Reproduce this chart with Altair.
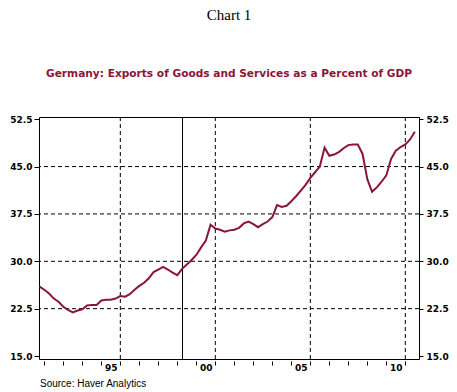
import altair as alt
import pandas as pd

# ---- data ----
first_year = 1991
first_quarter = 4
export_pct = [
    26.0, 25.5, 24.9, 24.1, 23.6,
    22.8, 22.3, 21.9, 22.2,
    22.4, 23.0, 23.1, 23.1,
    23.8, 23.9, 23.9, 24.1,
    24.5, 24.4, 24.8, 25.5,
    26.1, 26.6, 27.3, 28.3,
    28.7, 29.1, 28.7, 28.2,
    27.8, 28.8, 29.5, 30.2,
    31.0, 32.2, 33.3, 35.8,
    35.2, 35.0, 34.7, 34.9,
    35.0, 35.3, 36.0, 36.3,
    35.9, 35.4, 35.9, 36.3,
    37.0, 38.9, 38.6, 38.8,
    39.5, 40.3, 41.2, 42.1,
    43.2, 44.1, 45.0, 48.0,
    46.7, 46.9, 47.3, 47.9,
    48.4, 48.5, 48.5, 47.0,
    43.0, 41.0, 41.7, 42.6,
    43.6, 46.2, 47.5, 48.1,
    48.5, 49.3, 50.5,
]
label_years = [1995, 2000, 2005, 2010]
tick_labels = ["95", "00", "05", "10"]
minor_tick_years = list(range(1992, 2012))
grid_x_years = [1996, 2001, 2006, 2011]
grid_y_values = [22.5, 30.0, 37.5, 45.0]
y_ticks = [15.0, 22.5, 30.0, 37.5, 45.0, 52.5]
marker_year = [1999.25]

# quarterly time positions (fractional years)
quarters = []
y, q = first_year, first_quarter
for _ in export_pct:
    quarters.append(y + (q - 1) / 4)
    q += 1
    if q > 4:
        q, y = 1, y + 1

df = pd.DataFrame({"t": quarters, "v": export_pct})
df_gx = pd.DataFrame({"t": grid_x_years})
df_gy = pd.DataFrame({"v": grid_y_values})
df_m = pd.DataFrame({"t": marker_year})

MAROON = "#8b1538"
x_dom = [1991.72, 2011.72]
y_dom = [14.53, 52.85]

label_pos = [yr + 0.5 for yr in label_years]
label_expr = " : ".join(
    f"datum.value == {p} ? '{lab}'" for p, lab in zip(label_pos, tick_labels)
) + " : ''"

x_axis = alt.Axis(
    values=minor_tick_years + label_pos,
    labelExpr=label_expr,
    grid=False,
    domain=False,
    offset=2,
    tickSize=4,
    tickColor="black",
    tickOpacity={"condition": {"test": "datum.value % 1 != 0", "value": 0}, "value": 1},
    labelFont="DejaVu Sans",
    labelFontWeight="bold",
    labelFontSize=9,
    labelColor="black",
    labelPadding=-2,
    labelFlush=False,
    labelOverlap=False,
    title="Source: Haver Analytics",
    titleFont="Liberation Sans",
    titleFontSize=10,
    titleFontWeight="normal",
    titleColor="black",
    titleAnchor="start",
    titleAlign="left",
    titleBaseline="alphabetic",
    titleX=0.5,
    titleY=25,
)

def y_axis(orient, tick, pad):
    return alt.Axis(
        orient=orient,
        values=y_ticks,
        format=".1f",
        grid=False,
        domain=False,
        tickSize=tick,
        tickColor="black",
        labelFont="DejaVu Sans",
        labelFontWeight="bold",
        labelFontSize=9,
        labelColor="black",
        labelPadding=pad,
        labelFlush=False,
        labelOverlap=False,
        title=None,
    )

xs = alt.Scale(domain=x_dom, nice=False, zero=False)
ys = alt.Scale(domain=y_dom, nice=False, zero=False)

h_grid = alt.Chart(df_gy).mark_rule(color="black", strokeWidth=1, strokeDash=[4, 3]).encode(
    y=alt.Y("v:Q", scale=ys, axis=y_axis("right", 4, 3)),
)
v_grid = alt.Chart(df_gx).mark_rule(color="black", strokeWidth=1, strokeDash=[4, 3]).encode(
    x=alt.X("t:Q", scale=xs, axis=x_axis),
)
marker = alt.Chart(df_m).mark_rule(color="black", strokeWidth=1, xOffset=0.43).encode(
    x=alt.X("t:Q", scale=xs, axis=x_axis),
)
line = alt.Chart(df).mark_line(color=MAROON, strokeWidth=2).encode(
    x=alt.X("t:Q", scale=xs, axis=x_axis),
    y=alt.Y("v:Q", scale=ys, axis=y_axis("left", 5, 2)),
)

chart = (
    alt.layer(h_grid, v_grid, marker, line)
    .resolve_scale(y="independent")
    .properties(
        width=380,
        height=242,
        autosize=alt.AutoSizeParams(type="none"),
        padding={"left": 31, "top": 109, "right": 30, "bottom": 31},
        title=alt.Title(
            "Chart 1",
            subtitle="Germany:  Exports of Goods and Services as a Percent of GDP",
            font="Liberation Serif",
            fontSize=15,
            fontWeight="normal",
            color="black",
            subtitleFont="DejaVu Sans",
            subtitleFontSize=10.6,
            subtitleFontWeight="bold",
            subtitleColor=MAROON,
            subtitlePadding=46,
            anchor="middle",
            offset=36,
        ),
        background="white",
    )
    .configure_view(stroke="black", strokeWidth=1)
)

chart.save("out.html", embed_options={"renderer": "svg", "actions": False})
